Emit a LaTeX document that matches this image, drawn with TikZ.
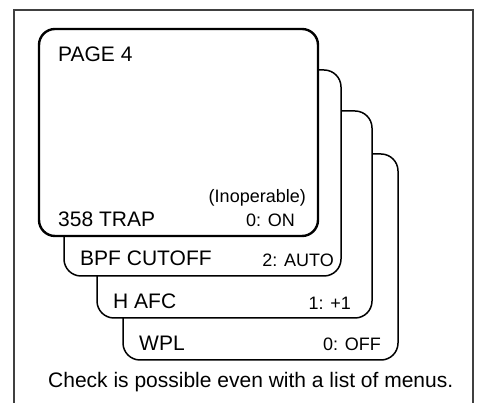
\documentclass[tikz,border=0pt]{standalone}
\usepackage{fontspec}
\setmainfont{Liberation Sans}
\begin{document}
\begin{tikzpicture}[x=1pt,y=1pt,
  frame/.style={draw=black!75,line width=1.6pt},
  card/.style={draw=black,fill=white,line width=1.5pt,rounded corners=17pt},
  frontcard/.style={card,line width=2.4pt,rounded corners=16pt},
  big/.style={inner sep=0pt,font=\fontsize{21}{24}\selectfont},
  small/.style={inner sep=0pt,font=\fontsize{18}{21}\selectfont}]
\useasboundingbox (0,0) rectangle (478,403);
\draw[frame] (14,0) -- (14,393) -- (473,393) -- (473,0);
% cards, back to front
\draw[card] (123,43) rectangle (398,249);
\draw[card] (97,85) rectangle (372,292);
\draw[card] (64,127) rectangle (341,333);
\draw[frontcard] (39,167) rectangle (318,374);
% texts
\node[big,anchor=base west] (page) at (58,341) {PAGE 4};
\node[big,anchor=base west] (trap) at (58,176) {358 TRAP};
\node[small,anchor=base east] (inop) at (306,200) {(Inoperable)};
\node[small,anchor=base east] (on) at (295,176) {0: ON};
\node[big,anchor=base west] (bpf) at (80,137) {BPF CUTOFF};
\node[small,anchor=base east] (auto) at (334,136) {2: AUTO};
\node[big,anchor=base west] (hafc) at (113,94) {H AFC};
\node[small,anchor=base east] (plus) at (351,93) {1: +1};
\node[big,anchor=base west] (wpl) at (139,52) {WPL};
\node[small,anchor=base east] (off) at (381,52) {0: OFF};
\node[big,anchor=base west] (cap) at (48,15) {Check is possible even with a list of menus.};
\end{tikzpicture}
\end{document}
